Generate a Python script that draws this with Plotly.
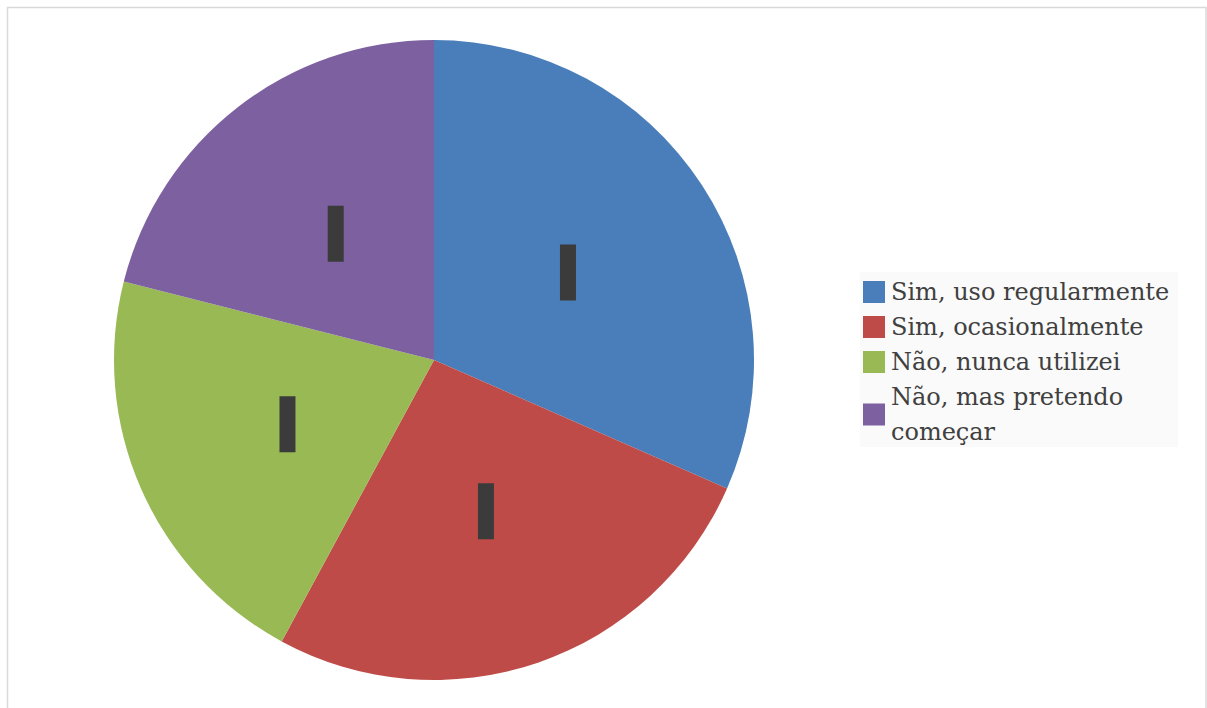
import math
import plotly.graph_objects as go

# Survey answers and counts
categories = ["Sim, uso regularmente", "Sim, ocasionalmente", "Não, nunca utilizei", "Não, mas pretendo começar"]
legend_lines = [["Sim, uso regularmente"], ["Sim, ocasionalmente"], ["Não, nunca utilizei"], ["Não, mas pretendo", "começar"]]
counts = [6, 5, 4, 4]
colors = ["#4A7EBB", "#BE4B48", "#98B954", "#7D60A0"]

W, H = 1207, 708
cx, cy, R = 434, 360, 320  # pie centre and radius in pixels


def px(x):
    return x / W


def py(y):
    return 1 - y / H


fig = go.Figure(
    go.Pie(
        labels=categories,
        values=counts,
        sort=False,
        direction="clockwise",
        rotation=0,
        marker=dict(colors=colors, line=dict(width=0)),
        textinfo="none",
        hoverinfo="label+value+percent",
        showlegend=False,
        domain=dict(x=[px(cx - R), px(cx + R)], y=[py(cy + R), py(cy - R)]),
    )
)

shapes = []
annotations = []

# Data labels: dark blocks at half radius on each slice's mid-angle
total = sum(counts)
cum = 0
for v in counts:
    mid = (cum + v / 2) / total * 2 * math.pi
    cum += v
    lx = cx + 0.5 * R * math.sin(mid)
    ly = cy - 0.5 * R * math.cos(mid)
    shapes.append(dict(
        type="rect", xref="paper", yref="paper",
        x0=px(lx - 8), x1=px(lx + 8), y0=py(ly + 28), y1=py(ly - 28),
        fillcolor="#3b3b3b", line=dict(width=0), layer="above",
    ))

# Legend panel
shapes.append(dict(
    type="rect", xref="paper", yref="paper",
    x0=px(860), x1=px(1178), y0=py(447), y1=py(272),
    fillcolor="#fafafa", line=dict(width=0), layer="below",
))
line_h = 35
row_top = 292
y = row_top
for lines, col in zip(legend_lines, colors):
    centre = y + (len(lines) - 1) * line_h / 2
    shapes.append(dict(
        type="rect", xref="paper", yref="paper",
        x0=px(863), x1=px(885), y0=py(centre + 11), y1=py(centre - 11),
        fillcolor=col, line=dict(width=0),
    ))
    for k, t in enumerate(lines):
        annotations.append(dict(
            x=px(889), y=py(y + k * line_h), xref="paper", yref="paper",
            xanchor="left", yanchor="middle", align="left",
            text=t, showarrow=False,
            font=dict(family="DejaVu Serif", size=24, color="#404040"),
        ))
    y += len(lines) * line_h

# Chart frame
shapes.append(dict(
    type="rect", xref="paper", yref="paper",
    x0=px(7.5), x1=px(1206), y0=py(720), y1=py(7.5),
    fillcolor="rgba(0,0,0,0)", line=dict(color="#d9d9d9", width=1.5),
))

fig.update_layout(
    width=W, height=H,
    margin=dict(l=0, r=0, t=0, b=0),
    paper_bgcolor="white",
    plot_bgcolor="white",
    shapes=shapes,
    annotations=annotations,
)

fig.write_html("out.html")
